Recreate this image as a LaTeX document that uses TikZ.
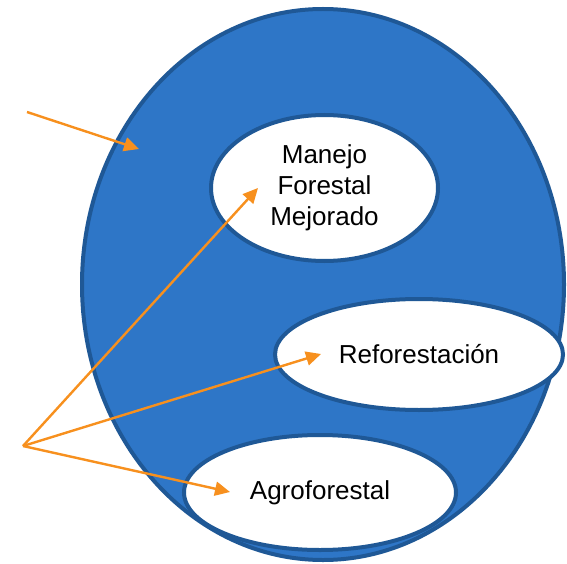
\documentclass[tikz,border=0pt]{standalone}
\usepackage{fontspec}
\setmainfont{Liberation Sans}
\usetikzlibrary{shapes.geometric}
\usetikzlibrary{arrows.meta}
\definecolor{areablue}{RGB}{46,118,199}
\definecolor{edgeblue}{RGB}{31,88,150}
\definecolor{arroworange}{RGB}{247,144,30}

\begin{document}
\begin{tikzpicture}[x=1pt,y=-1pt,
  zone/.style={ellipse,draw=edgeblue,line width=4pt,inner sep=0pt},
  label/.style={zone,fill=white,font=\fontsize{26}{31}\selectfont,align=center},
  pointer/.style={arroworange,line width=2.4pt,-{Triangle[length=15pt,width=14pt]}}]
\useasboundingbox (0,0) rectangle (567,564);

\node[zone,fill=areablue,minimum width=482pt,minimum height=551pt] (area) at (323,284.5) {};

\node[label,minimum width=227pt,minimum height=146pt] (manejo) at (324.5,188) {Manejo\\Forestal\\Mejorado};
\node[label,minimum width=288pt,minimum height=111pt] (refor) at (419,354.5) {Reforestación};
\node[label,minimum width=272pt,minimum height=115pt] (agro) at (320,492.5) {Agroforestal};

\coordinate (top) at (27,112);
\coordinate (fork) at (23,446);
\coordinate (tipA) at (139,149);
\coordinate (tipM) at (258,188);
\coordinate (tipR) at (321,354);
\coordinate (tipG) at (230,492);

\draw[pointer] (top) -- (tipA);
\foreach \t in {tipM,tipR,tipG} {
  \draw[pointer] (fork) -- (\t);
}
\end{tikzpicture}
\end{document}
